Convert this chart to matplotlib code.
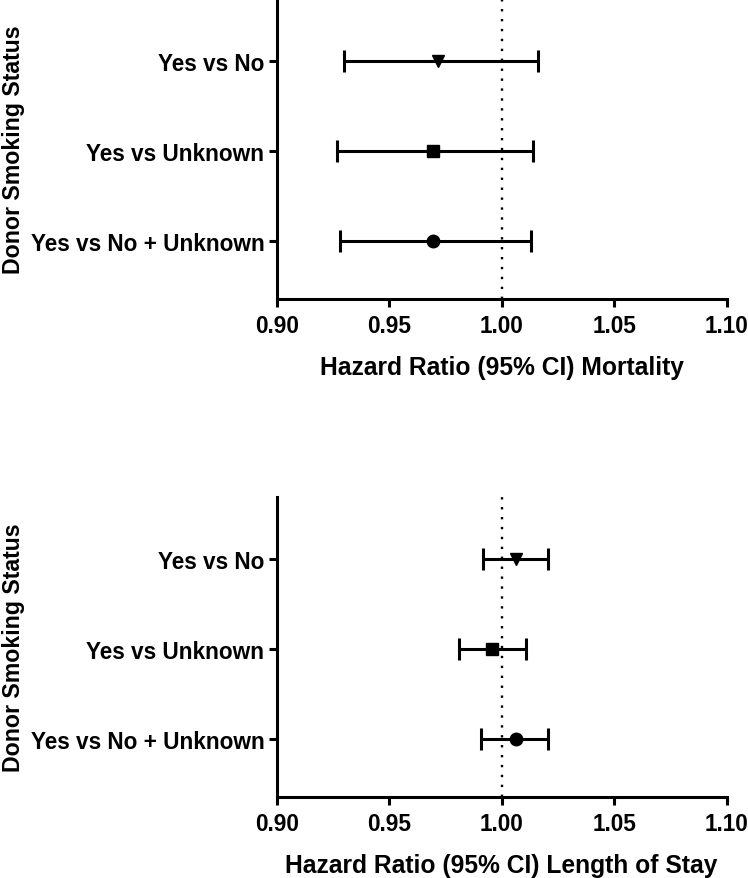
import matplotlib
matplotlib.use("Agg")
import matplotlib.pyplot as plt

plt.rcParams['font.family'] = ['Liberation Sans', 'DejaVu Sans']
plt.rcParams['font.weight'] = 'bold'

categories = ["Yes vs No", "Yes vs Unknown", "Yes vs No + Unknown"]
markers = ["v", "s", "o"]

mort_hr = [0.9718, 0.9696, 0.9696]
mort_lo = [0.9299, 0.9269, 0.9280]
mort_hi = [1.0161, 1.0141, 1.0130]

los_hr = [1.0062, 0.9958, 1.0062]
los_lo = [0.9916, 0.9809, 0.9907]
los_hi = [1.0207, 1.0109, 1.0207]

xticks = [0.90, 0.95, 1.00, 1.05, 1.10]
xlabels = ["Hazard Ratio (95% CI) Mortality", "Hazard Ratio (95% CI) Length of Stay"]

fig = plt.figure(figsize=(7.48, 8.79), dpi=100)
ax1 = fig.add_axes([0.370, 0.6587, 0.6015, 0.3413])
ax2 = fig.add_axes([0.370, 0.0922, 0.6015, 0.3413])

ypos = [3, 2, 1]

for ax, hr, lo, hi, xl in [(ax1, mort_hr, mort_lo, mort_hi, xlabels[0]),
                           (ax2, los_hr, los_lo, los_hi, xlabels[1])]:
    ax.axvline(1.0, color='black', lw=1.7, ls=(0, (1, 3.2)), zorder=1)
    for y, h, l, u, m in zip(ypos, hr, lo, hi, markers):
        ax.errorbar([h], [y], xerr=[[h - l], [u - h]], fmt=m, color='black',
                    ms=9, elinewidth=2.2, capsize=8, capthick=2.2, zorder=3)
    ax.set_xlim(0.90, 1.10)
    ax.set_ylim(0.35, 3.69)
    ax.set_xticks(xticks)
    ax.set_xticklabels([f"{t:.2f}" for t in xticks])
    ax.set_yticks(ypos)
    ax.set_yticklabels(categories)
    ax.spines['top'].set_visible(False)
    ax.spines['right'].set_visible(False)
    for s in ['left', 'bottom']:
        ax.spines[s].set_linewidth(2.2)
    ax.tick_params(axis='both', width=2.2, length=6, labelsize=16.3)
    ax.tick_params(axis='x', pad=5)
    ax.tick_params(axis='y', pad=3)
    ax.set_xlabel(xl, fontsize=17.7, fontweight='bold', labelpad=13)
    ax.set_ylabel("Donor Smoking Status", fontsize=16.7, fontweight='bold', labelpad=4)
    for t in ax.get_xticklabels() + ax.get_yticklabels():
        t.set_fontweight('bold')

fig.savefig("out.png", dpi=100)
